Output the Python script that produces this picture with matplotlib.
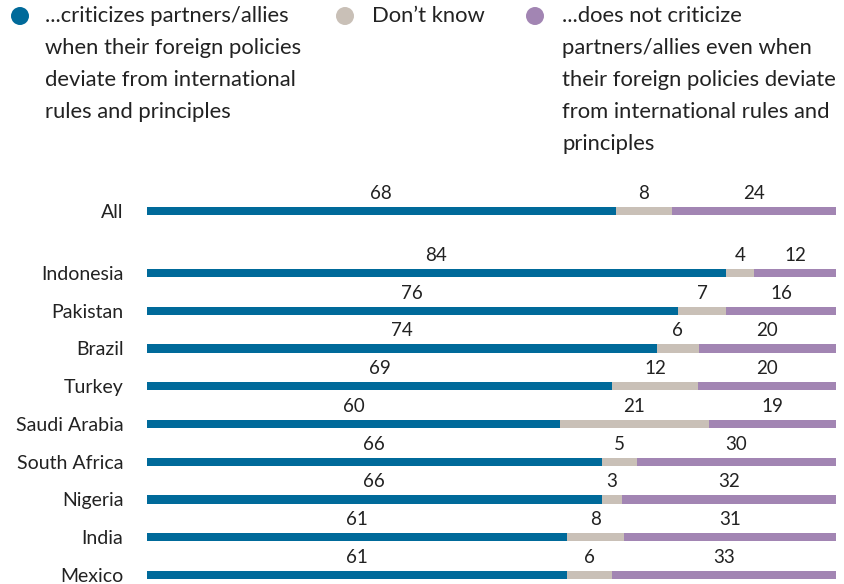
import numpy as np
import matplotlib.pyplot as plt
from matplotlib.patches import Ellipse

plt.rcParams['font.family'] = ['Lato', 'DejaVu Sans']

countries = ['All', 'Indonesia', 'Pakistan', 'Brazil', 'Turkey', 'Saudi Arabia',
             'South Africa', 'Nigeria', 'India', 'Mexico']
# printed (rounded) values
criticizes = [68, 84, 76, 74, 69, 60, 66, 66, 61, 61]
dont_know = [8, 4, 7, 6, 12, 21, 5, 3, 8, 6]
not_criticize = [24, 12, 16, 20, 20, 19, 30, 32, 31, 33]
# bar lengths (unrounded shares)
criticizes_bar = [68.0, 84.0, 77.0, 74.0, 67.5, 60.0, 66.0, 66.0, 61.0, 61.0]
dont_know_bar = [8.2, 4.1, 7.1, 6.1, 12.5, 21.5, 5.1, 3.0, 8.3, 6.5]
not_criticize_bar = [23.8, 11.9, 15.9, 19.9, 20.0, 18.5, 28.9, 31.0, 30.7, 32.5]

legend_labels = [
    ['...criticizes partners/allies', 'when their foreign policies',
     'deviate from international', 'rules and principles'],
    ['Don\u2019t know'],
    ['...does not criticize', 'partners/allies even when',
     'their foreign policies deviate', 'from international rules and', 'principles'],
]
colors = ['#006A9A', '#C9C0B7', '#A285B3']

W, H = 844, 584
fig = plt.figure(figsize=(W / 100, H / 100), dpi=100)

# axes spans pixel rows 170..584, x 147..836
ax = fig.add_axes([147 / W, 0, (836 - 147) / W, (584 - 170) / H])
ypos = np.array([0] + [1.64 + i for i in range(9)])
ax.set_ylim(9.88, -1.086)
ax.set_xlim(0, 100)

labels = np.array([criticizes, dont_know, not_criticize])
bars = np.array([criticizes_bar, dont_know_bar, not_criticize_bar])
bars = bars / bars.sum(axis=0) * 100
left = np.zeros(len(countries))
for k in range(3):
    ax.barh(ypos, bars[k], left=left, height=0.22, color=colors[k], linewidth=0)
    for i in range(len(countries)):
        ax.annotate(str(labels[k, i]), (left[i] + bars[k, i] / 2, ypos[i]),
                    xytext=(0, 12), textcoords='offset pixels', ha='center',
                    va='baseline', fontsize=13.5, color='#222222')
    left += bars[k]

ax.set_yticks(ypos)
ax.set_yticklabels(countries, fontsize=14, color='#222222')
ax.tick_params(axis='y', length=0, pad=17)
ax.set_xticks([])
for s in ax.spines.values():
    s.set_visible(False)

# legend drawn by hand
dot_x = [20, 345, 535]
text_x = [45, 372, 562]
for k in range(3):
    fig.add_artist(Ellipse((dot_x[k] / W, 1 - 16 / H), 18 / W, 18 / H,
                           transform=fig.transFigure, color=colors[k], lw=0))
    for j, line in enumerate(legend_labels[k]):
        fig.text(text_x[k] / W, 1 - (16 + 32 * j) / H, line, fontsize=15.8,
                 va='center', ha='left', color='#222222')

fig.savefig('out.png', dpi=100)
